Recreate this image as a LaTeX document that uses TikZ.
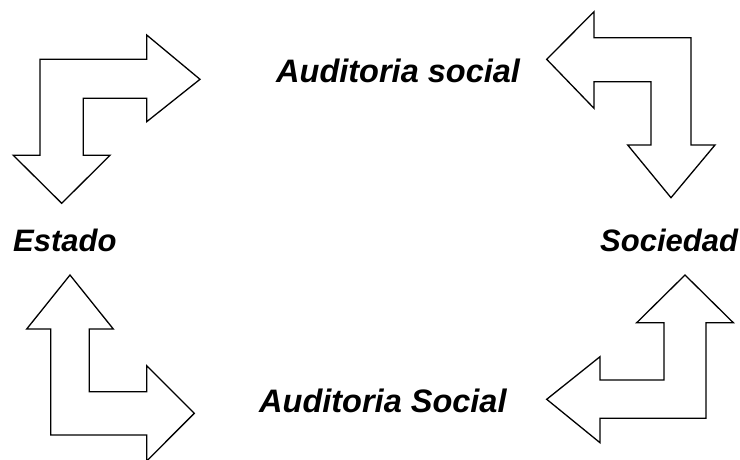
\documentclass[tikz,border=0pt]{standalone}
\usepackage{fontspec}
\setmainfont{Liberation Sans}
\begin{document}
\begin{tikzpicture}[x=1pt,y=-1pt,
  bentarrow/.style={draw=black,line width=1.3pt,line join=miter,fill=white},
  lbl/.style={font=\fontsize{31}{34}\selectfont\bfseries\itshape,anchor=base west,inner sep=0pt},
  midlbl/.style={lbl,font=\fontsize{32.5}{36}\selectfont\bfseries\itshape}]
\useasboundingbox (0,0) rectangle (740,459);
% top-left arrow
\draw[bentarrow] (40,59.3) -- (146.7,59.3) -- (146.7,35) -- (200,79.3) -- (146.7,121.7) -- (146.7,98.3)
  -- (83.3,98.3) -- (83.3,155.3) -- (110,155.3) -- (61.7,203.3) -- (13.3,155.3) -- (40,155.3) -- cycle;
% top-right arrow
\draw[bentarrow] (546.7,59.3) -- (594,11.7) -- (594,37.7) -- (691,37.7) -- (691,145) -- (715,145)
  -- (671,197.7) -- (627.7,145) -- (651,145) -- (651,81.7) -- (594,81.7) -- (594,108.3) -- cycle;
% bottom-left arrow
\draw[bentarrow] (70,275) -- (113.3,329) -- (89.3,329) -- (89.3,391.7) -- (146.7,391.7) -- (146.7,365.7)
  -- (194.3,413.3) -- (146.7,461) -- (146.7,435) -- (50.7,435) -- (50.7,329) -- (26.7,329) -- cycle;
% bottom-right arrow
\draw[bentarrow] (685,275) -- (733.3,322.7) -- (706,322.7) -- (706,418.3) -- (600,418.3) -- (600,442.7)
  -- (546.7,399.3) -- (600,356.7) -- (600,380) -- (664,380) -- (664,322.7) -- (636.7,322.7) -- cycle;
\node[midlbl] (top) at (276,82) {Auditoria social};
\node[midlbl] (bottom) at (259,412.7) {Auditoria Social};
\node[lbl] (estado) at (13,251) {Estado};
\node[lbl] (sociedad) at (600,251) {Sociedad};
\end{tikzpicture}
\end{document}
